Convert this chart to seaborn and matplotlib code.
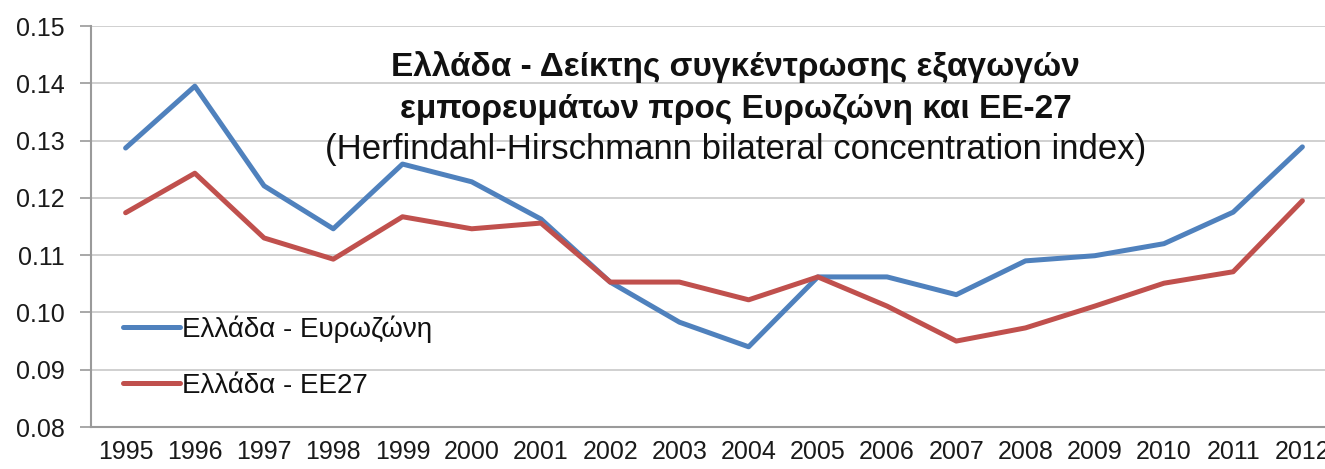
import numpy as np
import matplotlib.pyplot as plt
import seaborn as sns
import pandas as pd

#%% data
years = [str(y) for y in range(1995, 2013)]
eurozone = [0.1287, 0.1395, 0.1221, 0.1146, 0.1259, 0.1228, 0.1163, 0.1053, 0.0983,
            0.0940, 0.1062, 0.1062, 0.1031, 0.1090, 0.1099, 0.1120, 0.1175, 0.1289]
eu27 = [0.1174, 0.1243, 0.1130, 0.1093, 0.1167, 0.1146, 0.1156, 0.1053, 0.1053,
        0.1022, 0.1062, 0.1011, 0.0950, 0.0973, 0.1011, 0.1051, 0.1071, 0.1195]
series_names = ['Ελλάδα - Ευρωζώνη', 'Ελλάδα - ΕΕ27']
yticks = [0.08, 0.09, 0.10, 0.11, 0.12, 0.13, 0.14, 0.15]

df = pd.DataFrame({'year': years * 2,
                   'value': eurozone + eu27,
                   'series': [series_names[0]] * len(years) + [series_names[1]] * len(years)})
df['pos'] = df['year'].map({y: i for i, y in enumerate(years)})

#%% style
sns.set_theme(style='white')
plt.rcParams['font.family'] = ['Liberation Sans', 'DejaVu Sans']

fig = plt.figure(figsize=(13.25, 4.69), dpi=100)
ax = fig.add_axes([91 / 1325, 42 / 469, 1246 / 1325, 401 / 469])

sns.lineplot(data=df, x='pos', y='value', hue='series', ax=ax,
             palette=['#4F81BD', '#C0504D'], linewidth=3.6, legend=True)

ax.set_xlim(-0.5, len(years) - 0.5)
ax.set_ylim(0.08, 0.15)
ax.set_yticks(yticks)
ax.set_yticklabels(['%.2f' % t for t in yticks], fontsize=18, color='#1a1a1a')
ax.yaxis.grid(True, color='#c8c8c8', linewidth=1.2)

# category axis: ticks between the years, labels centred on them
ax.set_xticks(np.arange(-0.5, len(years)))
ax.set_xticklabels([])
ax.set_xticks(np.arange(len(years)), minor=True)
ax.set_xticklabels(years, minor=True, fontsize=18, color='#1a1a1a')
ax.tick_params(axis='x', which='major', length=7, color='#9a9a9a', width=1.2, direction='out')
ax.tick_params(axis='x', which='minor', length=0, pad=9)
ax.tick_params(axis='y', length=8, color='#9a9a9a', width=1.2, direction='out', left=True, pad=11)
ax.set_xlabel('')
ax.set_ylabel('')

sns.despine(ax=ax)
for s in ['left', 'bottom']:
    ax.spines[s].set_color('#9a9a9a')
    ax.spines[s].set_linewidth(1.5)

leg = ax.legend(loc='upper left', bbox_to_anchor=(0.026, 0.279), frameon=False,
                fontsize=20, handlelength=2.05, handletextpad=0.05, labelspacing=1.1,
                borderpad=0, borderaxespad=0)
for t in leg.get_texts():
    t.set_color('#111111')

fig.text(0.555, 1 - 76 / 469, 'Ελλάδα - Δείκτης συγκέντρωσης εξαγωγών',
         ha='center', va='baseline', fontsize=24, fontweight='bold', color='#111111')
fig.text(0.555, 1 - 118 / 469, 'εμπορευμάτων προς Ευρωζώνη και ΕΕ-27',
         ha='center', va='baseline', fontsize=24, fontweight='bold', color='#111111')
fig.text(0.555, 1 - 159 / 469, '(Herfindahl-Hirschmann bilateral concentration index)',
         ha='center', va='baseline', fontsize=25, color='#111111')

plt.savefig('out.png', dpi=100)
